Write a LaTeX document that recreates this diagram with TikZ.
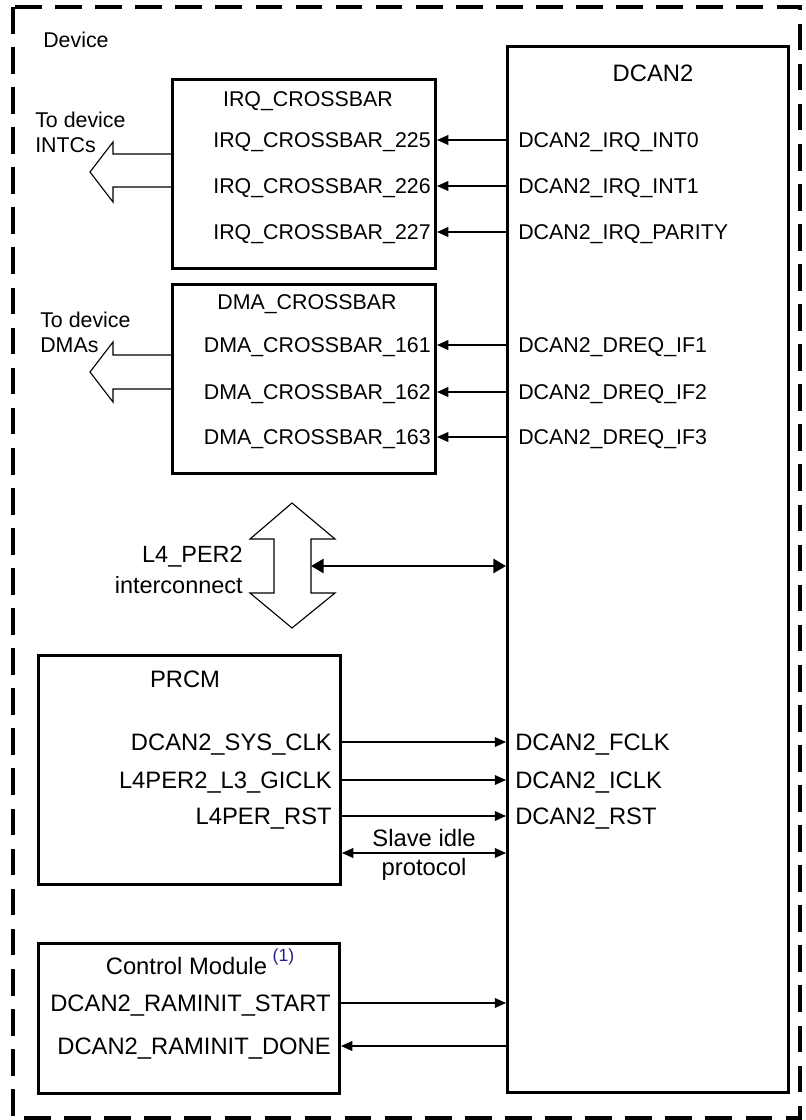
\documentclass[tikz,border=0pt]{standalone}
\usepackage{fontspec}
\setmainfont{Liberation Sans}
\usetikzlibrary{arrows.meta, positioning}

\definecolor{noteblue}{RGB}{30,30,140}

\begin{document}
\begin{tikzpicture}[
    x=0.025cm, y=-0.025cm,
    box/.style={
        draw,
        line width=2.1pt,
        anchor=north west,
        inner sep=0pt
    },
    sig/.style={
        inner sep=0pt,
        text height=10.9pt,
        text depth=0pt,
        font=\fontsize{15.2}{18}\selectfont
    },
    bigsig/.style={
        inner sep=0pt,
        text height=12.1pt,
        text depth=0pt,
        font=\fontsize{16.9}{20}\selectfont
    },
    note/.style={
        inner sep=0pt,
        font=\fontsize{15.2}{17.8}\selectfont
    },
    wire/.style={-{Triangle[length=8pt, width=7pt]}, line width=0.75pt},
    both/.style={{Triangle[length=8pt, width=7pt]}-{Triangle[length=8pt, width=7pt]}, line width=0.75pt},
    link/.style={{Triangle[length=9pt, width=10pt]}-{Triangle[length=9pt, width=10pt]}, line width=2pt},
    bus/.style={draw, line width=0.8pt}
]
\useasboundingbox (0,0) rectangle (805,1120);

% device frame
\draw[line width=2.5pt, dash pattern=on 19pt off 9.5pt] (13,7) rectangle (800,1118);
\node[sig, anchor=west] (device) at (43,40) {Device};

% blocks
\node[box, minimum width=6.575cm, minimum height=4.725cm] (irq) at (171,78) {};
\node[box, minimum width=6.575cm, minimum height=4.725cm] (dma) at (171,283) {};
\node[box, minimum width=7.025cm, minimum height=26.15cm] (dcan) at (506,45) {};
\node[box, minimum width=7.55cm, minimum height=5.725cm] (prcm) at (37,654) {};
\node[box, minimum width=7.525cm, minimum height=3.75cm] (ctrl) at (37,942) {};

\node[sig] (irqtitle) at (308,99) {IRQ\_CROSSBAR};
\node[sig] (dmatitle) at (307,302) {DMA\_CROSSBAR};
\node[bigsig] (dcantitle) at (653,73) {DCAN2};
\node[bigsig] (prcmtitle) at (185,679) {PRCM};
\node[bigsig] (ctrltitle) at (200,966) {Control Module\hspace{4pt}\raisebox{9pt}{\fontsize{12.5}{12.5}\selectfont\color{noteblue}(1)}};

% irq lines
\node[sig, anchor=east] (irq225) at (431,140) {IRQ\_CROSSBAR\_225};
\node[sig, anchor=east] (irq226) at (431,186) {IRQ\_CROSSBAR\_226};
\node[sig, anchor=east] (irq227) at (431,232) {IRQ\_CROSSBAR\_227};
\node[sig, anchor=west] (int0) at (518,140) {DCAN2\_IRQ\_INT0};
\node[sig, anchor=west] (int1) at (518,186) {DCAN2\_IRQ\_INT1};
\node[sig, anchor=west] (parity) at (518,232) {DCAN2\_IRQ\_PARITY};

\draw[wire] (dcan.west |- int0) -- (irq.east |- irq225);
\draw[wire] (dcan.west |- int1) -- (irq.east |- irq226);
\draw[wire] (dcan.west |- parity) -- (irq.east |- irq227);

% dma requests
\node[sig, anchor=east] (dma161) at (431,345) {DMA\_CROSSBAR\_161};
\node[sig, anchor=east] (dma162) at (431,392) {DMA\_CROSSBAR\_162};
\node[sig, anchor=east] (dma163) at (431,437) {DMA\_CROSSBAR\_163};
\node[sig, anchor=west] (dreq1) at (518,345) {DCAN2\_DREQ\_IF1};
\node[sig, anchor=west] (dreq2) at (518,392) {DCAN2\_DREQ\_IF2};
\node[sig, anchor=west] (dreq3) at (518,437) {DCAN2\_DREQ\_IF3};

\draw[wire] (dcan.west |- dreq1) -- (dma.east |- dma161);
\draw[wire] (dcan.west |- dreq2) -- (dma.east |- dma162);
\draw[wire] (dcan.west |- dreq3) -- (dma.east |- dma163);

% outputs to the device
\draw[bus] (171,154) -- (113,154) -- (113,142) -- (90,172) -- (113,202) -- (113,187) -- (171,187);
\draw[bus] (171,355) -- (113,355) -- (113,342) -- (90,372) -- (113,402) -- (113,389) -- (171,389);
\node[note, align=left, anchor=west] (intcs) at (35,132.5) {To device\\INTCs};
\node[note, align=left, anchor=west] (dmas) at (40,332.5) {To device\\DMAs};

% interconnect
\draw[bus] (274,539) -- (250,539) -- (292,503) -- (335,539) -- (311,539) -- (311,593)
    -- (335,593) -- (292,628) -- (250,593) -- (274,593) -- cycle;
\node[note, align=right, anchor=east, font=\fontsize{16.7}{21.7}\selectfont] (l4lbl) at (243,570) {L4\_PER2\\interconnect};
\coordinate (l4port) at (311,566);
\draw[link] (l4port) -- (dcan.west |- l4port);

% prcm
\node[bigsig, anchor=east] (sysclk) at (332,742) {DCAN2\_SYS\_CLK};
\node[bigsig, anchor=east] (giclk) at (332,780) {L4PER2\_L3\_GICLK};
\node[bigsig, anchor=east] (l4rst) at (332,816) {L4PER\_RST};
\node[bigsig, anchor=west] (fclk) at (515,742) {DCAN2\_FCLK};
\node[bigsig, anchor=west] (iclk) at (515,780) {DCAN2\_ICLK};
\node[bigsig, anchor=west] (drst) at (515,816) {DCAN2\_RST};

\draw[wire] (prcm.east |- sysclk) -- (dcan.west |- fclk);
\draw[wire] (prcm.east |- giclk) -- (dcan.west |- iclk);
\draw[wire] (prcm.east |- l4rst) -- (dcan.west |- drst);

\coordinate (idle) at (340,853);
\draw[both] (prcm.east |- idle) -- (dcan.west |- idle)
    node[midway, above, bigsig, text height=, inner sep=4.5pt] (idletop) {Slave idle}
    node[midway, below, bigsig, text height=, inner sep=3.2pt] (idlebot) {protocol};

% control module
\node[bigsig, anchor=east] (rstart) at (331,1003) {DCAN2\_RAMINIT\_START};
\node[bigsig, anchor=east] (rdone) at (331,1046) {DCAN2\_RAMINIT\_DONE};

\draw[wire] (ctrl.east |- rstart) -- (dcan.west |- rstart);
\draw[wire] (dcan.west |- rdone) -- (ctrl.east |- rdone);
\end{tikzpicture}
\end{document}
